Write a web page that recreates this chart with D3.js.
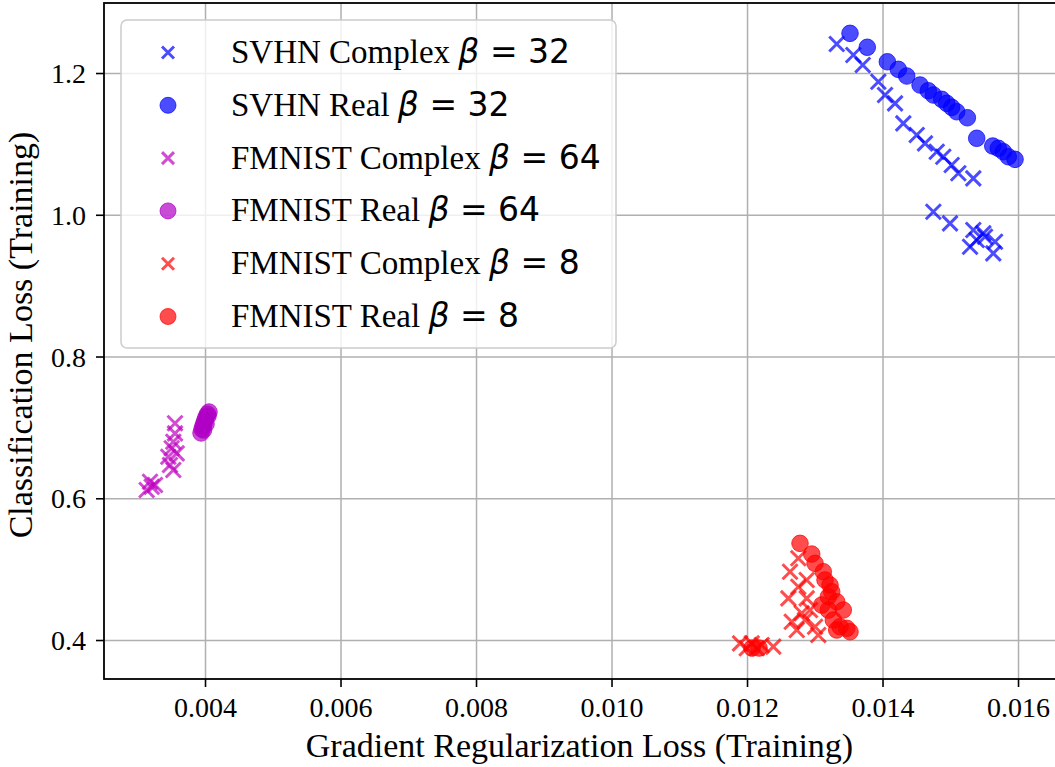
<!DOCTYPE html>
<html>
<head>
<meta charset="utf-8">
<script src="https://cdn.jsdelivr.net/npm/d3@7"></script>
<style>
  html, body { margin: 0; padding: 0; background: #ffffff; }
  svg { display: block; }
</style>
</head>
<body>
<svg id="chart" width="1055" height="767"></svg>
<script>
// ---------------- DATA ----------------
const xTicks = [0.004, 0.006, 0.008, 0.010, 0.012, 0.014, 0.016];
const xTickLabels = ["0.004", "0.006", "0.008", "0.010", "0.012", "0.014", "0.016"];
const yTicks = [0.4, 0.6, 0.8, 1.0, 1.2];
const yTickLabels = ["0.4", "0.6", "0.8", "1.0", "1.2"];

const xLabel = "Gradient Regularization Loss (Training)";
const yLabel = "Classification Loss (Training)";

const seriesNames = ["SVHN Complex", "SVHN Real", "FMNIST Complex", "FMNIST Real", "FMNIST Complex", "FMNIST Real"];
const seriesBetas = ["32", "32", "64", "64", "8", "8"];
const seriesMarkers = ["x", "o", "x", "o", "x", "o"];
const seriesColors = ["#0000ff", "#0000ff", "#bf00bf", "#b000c4", "#ff0000", "#ff0000"];

const svhnComplex = [
  [0.013324, 1.2409], [0.013569, 1.2254], [0.013708, 1.2113], [0.013938, 1.1877],
  [0.014037, 1.1690], [0.014185, 1.1572], [0.014307, 1.1290], [0.014505, 1.1125],
  [0.014627, 1.1008], [0.014800, 1.0890], [0.014897, 1.0819], [0.015021, 1.0702],
  [0.015119, 1.0585], [0.015340, 1.0514], [0.014750, 1.0043], [0.014996, 0.9879],
  [0.015340, 0.9785], [0.015513, 0.9690], [0.015661, 0.9620], [0.015292, 0.9549],
  [0.015390, 0.9644], [0.015635, 0.9456], [0.015488, 0.9738]
];
const svhnReal = [
  [0.013520, 1.2560], [0.013775, 1.2363], [0.014071, 1.2159], [0.014233, 1.2052],
  [0.014357, 1.1958], [0.014554, 1.1831], [0.014676, 1.1750], [0.014750, 1.1690],
  [0.014874, 1.1629], [0.014948, 1.1572], [0.015021, 1.1516], [0.015095, 1.1454],
  [0.015252, 1.1369], [0.015390, 1.1079], [0.015627, 1.0970], [0.015709, 1.0938],
  [0.015783, 1.0890], [0.015857, 1.0819], [0.015956, 1.0782]
];
const fmnistComplex64 = [
  [0.003557, 0.7058], [0.003557, 0.6916], [0.003532, 0.6798], [0.003508, 0.6705],
  [0.003582, 0.6634], [0.003458, 0.6586], [0.003483, 0.6469], [0.003532, 0.6399],
  [0.003188, 0.6234], [0.003213, 0.6163], [0.003139, 0.6117], [0.003262, 0.6187]
];
const fmnistReal64 = [
  [0.003941, 0.6921], [0.003956, 0.6977], [0.003970, 0.7019], [0.003985, 0.7062],
  [0.004000, 0.7104], [0.004015, 0.7146], [0.004037, 0.7189], [0.004059, 0.7217],
  [0.003978, 0.6963], [0.004015, 0.7048], [0.004044, 0.7161]
];
const fmnistComplex8 = [
  [0.012757, 0.5153], [0.012635, 0.4964], [0.012881, 0.4847], [0.012757, 0.4752],
  [0.012610, 0.4588], [0.012881, 0.4588], [0.012930, 0.4423], [0.012660, 0.4258],
  [0.012807, 0.4377], [0.012734, 0.4141], [0.013004, 0.4188], [0.013052, 0.4071],
  [0.012856, 0.4282], [0.011897, 0.3953], [0.012069, 0.3953], [0.011996, 0.3883],
  [0.012217, 0.3930], [0.012388, 0.3906], [0.012143, 0.3883]
];
const fmnistReal8 = [
  [0.012782, 0.5364], [0.012955, 0.5213], [0.013004, 0.5082], [0.013126, 0.4964],
  [0.013151, 0.4847], [0.013225, 0.4776], [0.013250, 0.4681], [0.013200, 0.4611],
  [0.013324, 0.4540], [0.013103, 0.4494], [0.013421, 0.4423], [0.013200, 0.4423],
  [0.013274, 0.4282], [0.013373, 0.4188], [0.013472, 0.4165], [0.013520, 0.4117],
  [0.013324, 0.4141], [0.012074, 0.3887], [0.012177, 0.3887]
];
const seriesData = [svhnComplex, svhnReal, fmnistComplex64, fmnistReal64, fmnistComplex8, fmnistReal8];

// ---------------- LAYOUT ----------------
const W = 1055, H = 767;
const plot = { left: 104, top: 3, right: 1058, bottom: 679 };
const xDomain = [0.002509, 0.016590];
const yDomain = [0.345, 1.2988];

const serif = "'Liberation Serif', 'Times New Roman', serif";
const sans = "'DejaVu Sans', sans-serif";

const svg = d3.select("#chart");
svg.append("rect").attr("width", W).attr("height", H).attr("fill", "#ffffff");

const x = d3.scaleLinear().domain(xDomain).range([plot.left, plot.right]);
const y = d3.scaleLinear().domain(yDomain).range([plot.bottom, plot.top]);

const clipId = "plotclip";
svg.append("clipPath").attr("id", clipId).append("rect")
  .attr("x", plot.left).attr("y", plot.top)
  .attr("width", plot.right - plot.left).attr("height", plot.bottom - plot.top);

// grid
const gridG = svg.append("g");
gridG.append("g")
  .attr("transform", `translate(0,${plot.bottom})`)
  .call(d3.axisBottom(x).tickValues(xTicks).tickSize(-(plot.bottom - plot.top)).tickFormat(""))
  .call(g => g.select(".domain").remove())
  .call(g => g.selectAll("line").attr("stroke", "#b0b0b0").attr("stroke-width", 1.5));
gridG.append("g")
  .attr("transform", `translate(${plot.left},0)`)
  .call(d3.axisLeft(y).tickValues(yTicks).tickSize(-(plot.right - plot.left)).tickFormat(""))
  .call(g => g.select(".domain").remove())
  .call(g => g.selectAll("line").attr("stroke", "#b0b0b0").attr("stroke-width", 1.5));

// marks
const xs = 7.5; // half-size of x marker
const xPath = `M${-xs},${-xs}L${xs},${xs}M${-xs},${xs}L${xs},${-xs}`;
const markG = svg.append("g").attr("clip-path", `url(#${clipId})`);
seriesData.forEach((data, si) => {
  const col = seriesColors[si];
  const g = markG.append("g");
  if (seriesMarkers[si] === "x") {
    g.selectAll("path").data(data).enter().append("path")
      .attr("d", xPath)
      .attr("transform", d => `translate(${x(d[0])},${y(d[1])})`)
      .attr("fill", "none")
      .attr("stroke", col)
      .attr("stroke-opacity", 0.7)
      .attr("stroke-width", 3);
  } else {
    g.selectAll("circle").data(data).enter().append("circle")
      .attr("cx", d => x(d[0]))
      .attr("cy", d => y(d[1]))
      .attr("r", 8.3)
      .attr("fill", col)
      .attr("fill-opacity", 0.7)
      .attr("stroke", col)
      .attr("stroke-opacity", 0.7)
      .attr("stroke-width", 1);
  }
});

// axes
const xAxisG = svg.append("g")
  .attr("transform", `translate(0,${plot.bottom})`)
  .call(d3.axisBottom(x).tickValues(xTicks).tickFormat((d, i) => xTickLabels[i]).tickSize(8).tickPadding(10));
const yAxisG = svg.append("g")
  .attr("transform", `translate(${plot.left},0)`)
  .call(d3.axisLeft(y).tickValues(yTicks).tickFormat((d, i) => yTickLabels[i]).tickSize(8).tickPadding(10));
[xAxisG, yAxisG].forEach(g => {
  g.select(".domain").remove();
  g.selectAll("line").attr("stroke", "#000").attr("stroke-width", 1.6);
  g.selectAll("text").attr("font-family", serif).attr("font-size", 28).attr("fill", "#000");
});
yAxisG.selectAll("text").attr("dy", "0.34em");

// spines
svg.append("rect")
  .attr("x", plot.left).attr("y", plot.top)
  .attr("width", plot.right - plot.left).attr("height", plot.bottom - plot.top)
  .attr("fill", "none").attr("stroke", "#000").attr("stroke-width", 1.8);

// axis labels
svg.append("text")
  .attr("x", (plot.left + 1055) / 2).attr("y", 757)
  .attr("text-anchor", "middle")
  .attr("font-family", serif).attr("font-size", 34).attr("fill", "#000")
  .text(xLabel);
svg.append("text")
  .attr("transform", `translate(32,${(plot.top + plot.bottom) / 2 - 6}) rotate(-90)`)
  .attr("text-anchor", "middle")
  .attr("font-family", serif).attr("font-size", 34).attr("fill", "#000")
  .text(yLabel);

// legend
const leg = { x: 121, y: 20, w: 495, h: 328, rowStart: 63, rowStep: 52.8, markerX: 168, textX: 231 };
const legG = svg.append("g");
legG.append("rect")
  .attr("x", leg.x).attr("y", leg.y).attr("width", leg.w).attr("height", leg.h)
  .attr("rx", 6).attr("ry", 6)
  .attr("fill", "#ffffff").attr("fill-opacity", 0.8)
  .attr("stroke", "#cccccc").attr("stroke-width", 1.5);
seriesNames.forEach((name, i) => {
  const base = leg.rowStart + i * leg.rowStep;
  const cy = base - 10.5;
  const col = seriesColors[i];
  if (seriesMarkers[i] === "x") {
    const s = 6;
    legG.append("path")
      .attr("d", `M${-s},${-s}L${s},${s}M${-s},${s}L${s},${-s}`)
      .attr("transform", `translate(${leg.markerX},${cy})`)
      .attr("fill", "none").attr("stroke", col).attr("stroke-opacity", 0.7).attr("stroke-width", 3);
  } else {
    legG.append("circle")
      .attr("cx", leg.markerX).attr("cy", cy).attr("r", 8)
      .attr("fill", col).attr("fill-opacity", 0.7)
      .attr("stroke", col).attr("stroke-opacity", 0.7).attr("stroke-width", 1);
  }
  const t = legG.append("text")
    .attr("x", leg.textX).attr("y", base)
    .attr("font-family", serif).attr("font-size", 33).attr("fill", "#000")
    .attr("xml:space", "preserve");
  t.append("tspan").text(name + " ");
  t.append("tspan").attr("font-family", sans).attr("font-style", "italic").attr("font-size", 33).text("β");
  t.append("tspan").attr("font-family", sans).attr("font-size", 33).text(" = " + seriesBetas[i]);
});
</script>
</body>
</html>
